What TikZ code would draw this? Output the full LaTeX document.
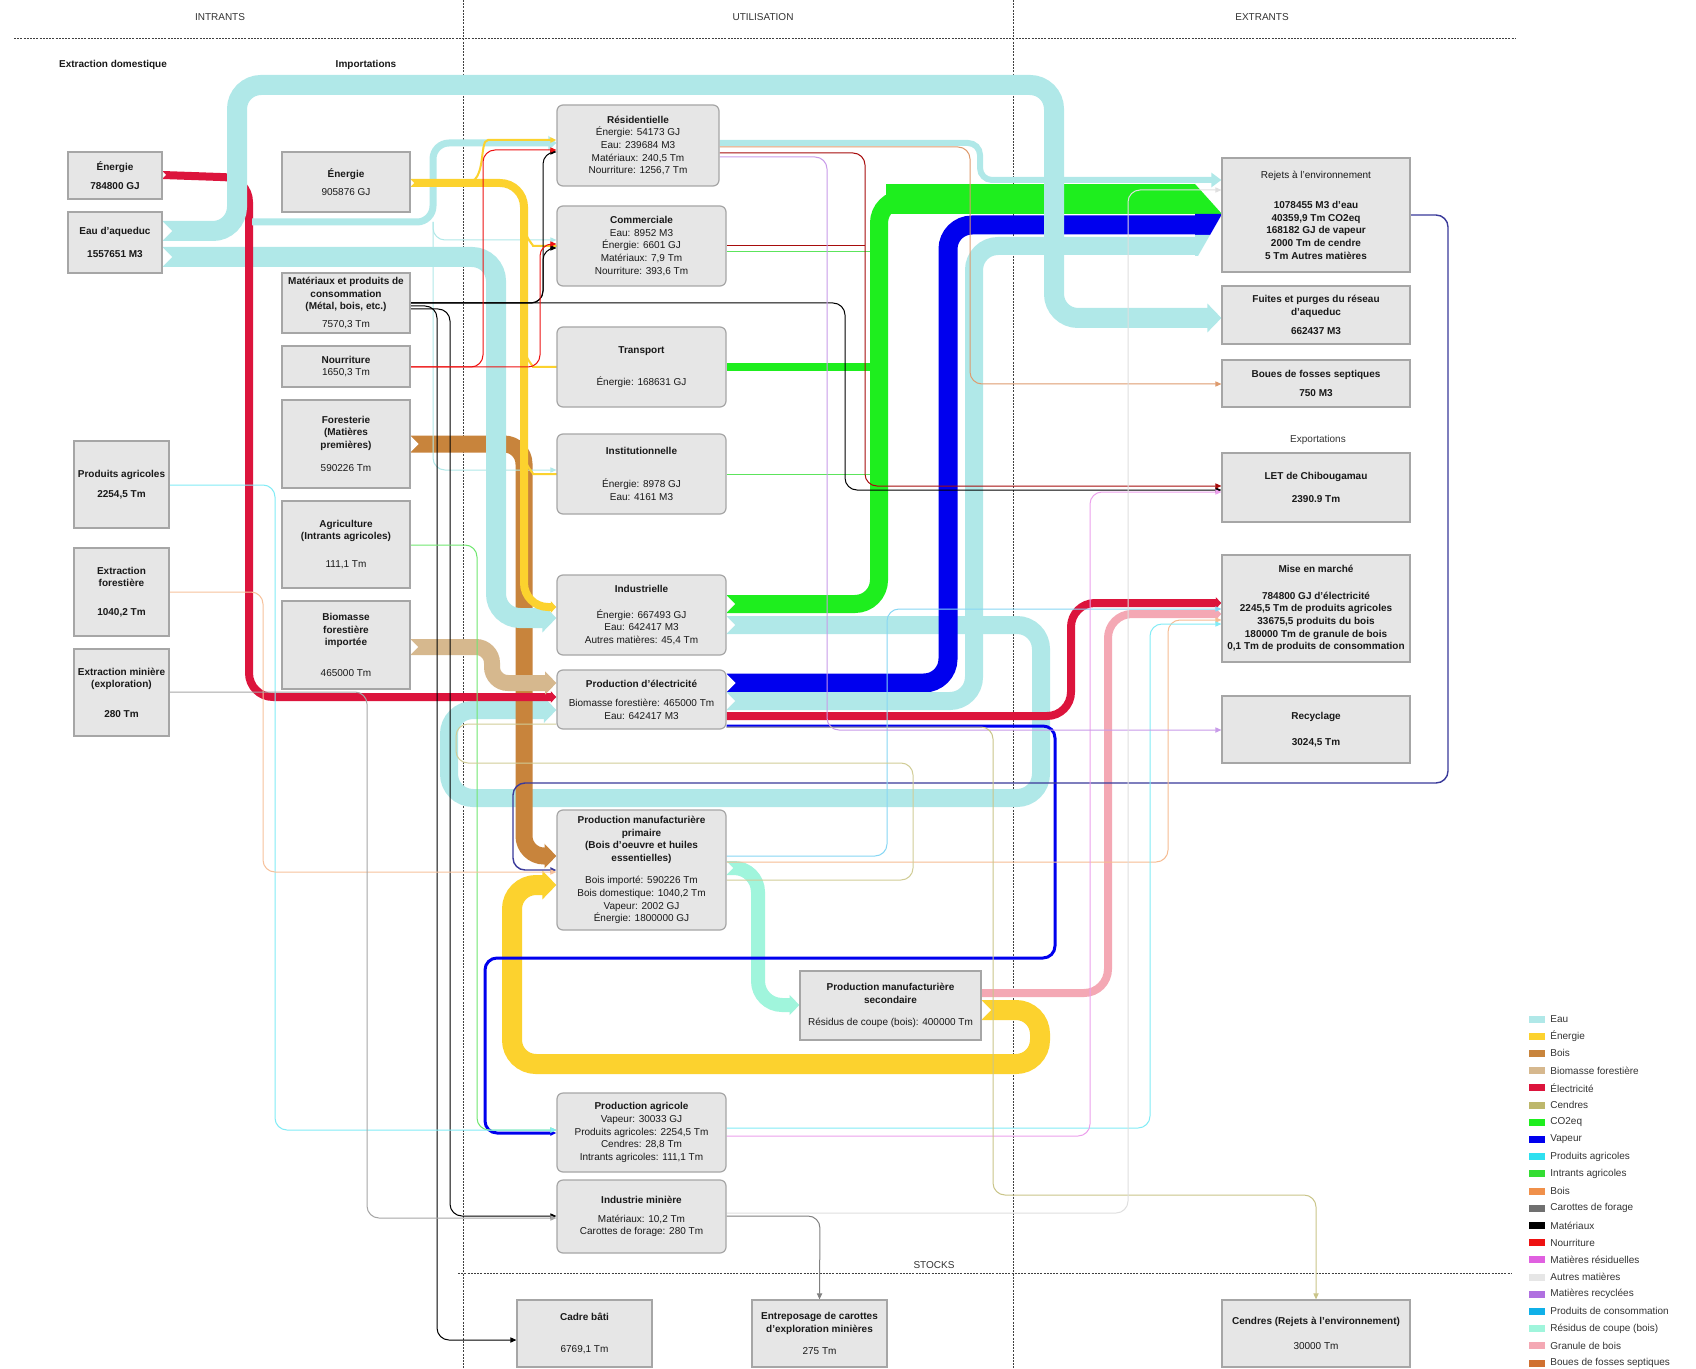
\documentclass[tikz,border=0pt]{standalone}
\usepackage{fontspec}
\setmainfont{Liberation Sans}
\usetikzlibrary{arrows.meta}
\pgfdeclarelayer{bg}
\pgfsetlayers{bg,main}
\definecolor{ceau}{HTML}{B0E8E8}
\definecolor{cener}{HTML}{FCD22E}
\definecolor{cbois}{HTML}{C8843C}
\definecolor{cbiom}{HTML}{D6B88E}
\definecolor{celec}{HTML}{DC143C}
\definecolor{ccend}{HTML}{BDB76B}
\definecolor{cco2}{HTML}{1EEE1E}
\definecolor{cvap}{HTML}{0000EE}
\definecolor{cpagr}{HTML}{2EE0F0}
\definecolor{cintr}{HTML}{33DD33}
\definecolor{cbois2}{HTML}{F0904A}
\definecolor{ccar}{HTML}{707070}
\definecolor{cmat}{HTML}{000000}
\definecolor{cnour}{HTML}{EE1111}
\definecolor{cresid}{HTML}{E060E0}
\definecolor{cautr}{HTML}{E6E6E6}
\definecolor{crecy}{HTML}{B070E0}
\definecolor{cpcons}{HTML}{10B0E8}
\definecolor{crcoupe}{HTML}{A0F5DC}
\definecolor{cgran}{HTML}{F4A8B4}
\definecolor{cboues}{HTML}{D07030}
\definecolor{boxfill}{HTML}{E6E6E6}
\definecolor{boxline}{HTML}{A6A6A6}
\definecolor{cnavy}{HTML}{3A3A9A}
\tikzset{
 box/.style={rectangle, draw=boxline, fill=boxfill, line width=0.6pt, align=center, inner sep=1pt, text=black!90, font=\fontsize{5}{6.3}\selectfont},
 rbox/.style={box, rounded corners=3pt},
 band/.style={line width=#1, rounded corners=12pt, -{Triangle[length=0pt 0.7, width=0pt 1.4]}},
 plainband/.style={line width=#1, rounded corners=12pt},
 fine/.style={line width=0.5pt, rounded corners=6pt, -{Triangle[length=3pt, width=2.6pt]}},
 fineplain/.style={line width=0.5pt, rounded corners=6pt},
 hdr/.style={inner sep=0pt, text=black!80, font=\fontsize{5}{6}\selectfont},
 hdrb/.style={inner sep=0pt, text=black!90, font=\bfseries\fontsize{5}{6}\selectfont},
 leg/.style={anchor=west, inner sep=0pt, text=black!80, font=\fontsize{5}{6}\selectfont},
 grid/.style={line width=0.4pt, black!75, dash pattern=on 1pt off 0.6pt},
}
\newcommand{\bx}[7]{\node[#6, minimum width={(#4-#2)*0.5pt}, minimum height={(#5-#3)*0.5pt}] (#1) at ({(#2+#4)/2},{(#3+#5)/2}) {#7};}
\newcommand{\notch}[3]{\fill[white] (#1,{#2-#3}) -- ({#1+#3},#2) -- (#1,{#2+#3}) -- cycle;}
\begin{document}
\begin{tikzpicture}[x=0.5pt,y=-0.5pt]
\useasboundingbox (0,0) rectangle (1696,1369);
% headers
\node[hdr] (hin) at (220,17) {INTRANTS};
\node[hdr] (hut) at (763,17) {UTILISATION};
\node[hdr] (hex) at (1262,17) {EXTRANTS};
\node[hdrb] (hdom) at (113,65) {Extraction domestique};
\node[hdrb] (himp) at (366,65) {Importations};
\node[hdr] (hexp) at (1318,440) {Exportations};
\node[hdr] (hstk) at (934,1265) {STOCKS};
% domestic
\bx{enerdom}{68}{152}{162}{199}{box}{\textbf{Énergie}\\[3.5pt]\textbf{784800 GJ}}
\bx{eauaq}{68}{212}{162}{273}{box}{\textbf{Eau d'aqueduc}\\[5pt]\textbf{1557651 M3}}
\bx{pagrdom}{74}{441}{169}{528}{box}{\textbf{Produits agricoles}\\[3.5pt]\textbf{2254,5 Tm}}
\bx{extfor}{74}{548}{169}{636}{box}{\textbf{Extraction}\\\textbf{forestière}\\[8pt]\textbf{1040,2 Tm}}
\bx{extmin}{74}{649}{169}{736}{box}{\textbf{Extraction minière}\\\textbf{(exploration)}\\[8.5pt]\textbf{280 Tm}}
% imports
\bx{enerimp}{282}{152}{410}{212}{box}{\textbf{Énergie}\\[3pt]905876 GJ}
\bx{mat}{282}{273}{410}{333}{box}{\textbf{Matériaux et produits de}\\\textbf{consommation}\\\textbf{(Métal, bois, etc.)}\\[2.5pt]7570,3 Tm}
\bx{nour}{282}{346}{410}{387}{box}{\textbf{Nourriture}\\1650,3 Tm}
\bx{forest}{282}{400}{410}{488}{box}{\textbf{Foresterie}\\\textbf{(Matières}\\\textbf{premières)}\\[5.5pt]590226 Tm}
\bx{agri}{282}{501}{410}{588}{box}{\textbf{Agriculture}\\\textbf{(Intrants agricoles)}\\[7.5pt]111,1 Tm}
\bx{biom}{282}{601}{410}{689}{box}{\textbf{Biomasse}\\\textbf{forestière}\\\textbf{importée}\\[9pt]465000 Tm}
% utilisation
\bx{resid}{557}{105}{719}{186}{rbox}{\textbf{Résidentielle}\\Énergie: 54173 GJ\\Eau: 239684 M3\\Matériaux: 240,5 Tm\\Nourriture: 1256,7 Tm}
\bx{comm}{557}{206}{726}{286}{rbox}{\textbf{Commerciale}\\Eau: 8952 M3\\Énergie: 6601 GJ\\Matériaux: 7,9 Tm\\Nourriture: 393,6 Tm}
\bx{transp}{557}{327}{726}{407}{rbox}{\textbf{Transport}\\[10pt]Énergie: 168631 GJ}
\bx{instit}{557}{434}{726}{514}{rbox}{\textbf{Institutionnelle}\\[10pt]Énergie: 8978 GJ\\Eau: 4161 M3}
\bx{indus}{557}{575}{726}{655}{rbox}{\textbf{Industrielle}\\[6.5pt]Énergie: 667493 GJ\\Eau: 642417 M3\\Autres matières: 45,4 Tm}
\bx{prodelec}{557}{670}{726}{729}{rbox}{\textbf{Production d'électricité}\\[3.5pt]Biomasse forestière: 465000 Tm\\Eau: 642417 M3}
\bx{pmp}{557}{810}{726}{930}{rbox}{\textbf{Production manufacturière}\\\textbf{primaire}\\\textbf{(Bois d'oeuvre et huiles}\\\textbf{essentielles)}\\[5pt]Bois importé: 590226 Tm\\Bois domestique: 1040,2 Tm\\Vapeur: 2002 GJ\\Énergie: 1800000 GJ}
\bx{pms}{800}{971}{981}{1040}{box}{\textbf{Production manufacturière}\\\textbf{secondaire}\\[5pt]Résidus de coupe (bois): 400000 Tm}
\bx{prodagr}{557}{1093}{726}{1172}{rbox}{\textbf{Production agricole}\\Vapeur: 30033 GJ\\Produits agricoles: 2254,5 Tm\\Cendres: 28,8 Tm\\Intrants agricoles: 111,1 Tm}
\bx{indmin}{557}{1180}{726}{1253}{rbox}{\textbf{Industrie minière}\\[3pt]Matériaux: 10,2 Tm\\Carottes de forage: 280 Tm}
% stocks
\bx{cadre}{517}{1300}{652}{1367}{box}{\textbf{Cadre bâti}\\[10pt]6769,1 Tm}
\bx{entrep}{752}{1300}{887}{1367}{box}{\textbf{Entreposage de carottes}\\\textbf{d'exploration minières}\\[4.5pt]275 Tm}
\bx{cendres}{1222}{1300}{1410}{1367}{box}{\textbf{Cendres (Rejets à l'environnement)}\\[6pt]30000 Tm}
% extrants
\bx{rejets}{1222}{158}{1410}{272}{box}{Rejets à l'environnement\\[9pt]\textbf{1078455 M3 d'eau}\\\textbf{40359,9 Tm CO2eq}\\\textbf{168182 GJ de vapeur}\\\textbf{2000 Tm de cendre}\\\textbf{5 Tm Autres matières}}
\bx{fuites}{1222}{286}{1410}{344}{box}{\textbf{Fuites et purges du réseau}\\\textbf{d'aqueduc}\\[3.5pt]\textbf{662437 M3}}
\bx{boues}{1222}{360}{1410}{407}{box}{\textbf{Boues de fosses septiques}\\[3.5pt]\textbf{750 M3}}
\bx{let}{1222}{453}{1410}{522}{box}{\textbf{LET de Chibougamau}\\[5pt]\textbf{2390.9 Tm}}
\bx{mise}{1222}{555}{1410}{662}{box}{\textbf{Mise en marché}\\[7pt]\textbf{784800 GJ d'électricité}\\\textbf{2245,5 Tm de produits agricoles}\\\textbf{33675,5 produits du bois}\\\textbf{180000 Tm de granule de bois}\\\textbf{0,1 Tm de produits de consommation}}
\bx{recyc}{1222}{696}{1410}{763}{box}{\textbf{Recyclage}\\[7pt]\textbf{3024,5 Tm}}
% legend
\foreach \c/\t [count=\i from 0] in {ceau/Eau, cener/Énergie, cbois/Bois, cbiom/Biomasse forestière, celec/Électricité, ccend/Cendres, cco2/CO2eq, cvap/Vapeur, cpagr/Produits agricoles, cintr/Intrants agricoles, cbois2/Bois, ccar/Carottes de forage, cmat/Matériaux, cnour/Nourriture, cresid/Matières résiduelles, cautr/Autres matières, crecy/Matières recyclées, cpcons/Produits de consommation, crcoupe/Résidus de coupe (bois), cgran/Granule de bois, cboues/Boues de fosses septiques}{
  \fill[\c] (1529,{1019+17.2*\i-3.5}) rectangle (1545,{1019+17.2*\i+3.5});
  \node[leg] (leg\i) at (1550,{1019+17.2*\i}) {\t};
}
\coordinate (brA) at (252,222);
\begin{pgfonlayer}{bg}
\fill[white] (0,0) rectangle (1696,1369);
\draw[grid] (14,38) -- (1516,38);
\draw[grid] (463,0) -- (463,1369);
\draw[grid] (1013,0) -- (1013,1369);
\draw[grid] (458,1273) -- (1512,1273);
% thin green feeders (under green band)
\draw[cintr!80!white, fineplain] (comm.east |- 0,252) -- (879,252);
\draw[cintr!80!white, fineplain] (instit.east |- 0,474) -- (879,474);
% water loop Industrielle -> Production d'electricite
\draw[ceau, band=9pt] (indus.east |- 0,625) -- (1041,625) -- (1041,798) -- (449,798) -- (449,710) -- (prodelec.west |- 0,710);
% bois
\draw[cbois, band=8.5pt, rounded corners=10pt] (forest.east |- 0,444) -- (524,444) -- (524,856) -- (pmp.west |- 0,856);
% water lower branch
\draw[ceau, band=10pt] (eauaq.east |- 0,257) -- (496,257) -- (496,618) -- (indus.west |- 0,618);
% electricity in
\draw[celec, band=4pt] (enerdom.east |- 0,175) -- (249,178) -- (249,697) -- (prodelec.west |- 0,697);
% CO2
\draw[cco2, plainband=9pt] (indus.east |- 0,604) -- (879,604) -- (879,199) -- (1195,199);
\draw[cco2, line width=15pt] (886,199) -- (1195,199);
\draw[cco2, line width=4pt] (transp.east) -- (879,367);
% vapeur
\draw[cvap, plainband=9.5pt] (prodelec.east |- 0,683) -- (948,683) -- (948,225) -- (1195,225);
% water elec -> rejets
\draw[ceau, plainband=9pt] (prodelec.east |- 0,701) -- (974,701) -- (974,246) -- (1195,246);
% chevron into rejets
\fill[cco2] (1195,184) -- (1222,214) -- (1195,214) -- cycle;
\fill[cvap] (1195,214) -- (1222,214) -- (1210,235) -- (1195,235) -- cycle;
\fill[ceau] (1195,235) -- (1210,235) -- (1198,256) -- (1195,256) -- cycle;
% electricity out
\draw[celec, band=4pt] (prodelec.east |- 0,716) -- (1071,716) -- (1071,603) -- (mise.west |- 0,603);
% water top branch -> fuites
\draw[ceau, band=10pt] (eauaq.east |- 0,231) -- (237,231) -- (237,85) -- (1054,85) -- (1054,318) -- (fuites.west |- 0,318);
\draw[ceau, line width=3.5pt, rounded corners=8pt, -{Triangle[length=4pt,width=7pt]}] (brA) -- (433,222) -- (433,143) -- (resid.west |- 0,143);
\draw[ceau, fine] (433,222) -- (433,470) -- (instit.west |- 0,470);
\draw[ceau, fine] (433,222) |- (comm.west |- 0,240);
% energy
\draw[cener, band=4pt] (enerimp.east |- 0,183) -- (524,183) -- (524,607) -- (indus.west |- 0,607);
\draw[cener, fine, line width=1pt] (466,183) to[out=0,in=180] (500,140) -- (resid.west |- 0,140);
\draw[cener, fine, line width=1pt] (524,228) to[out=-80,in=180] (545,246) -- (comm.west |- 0,246);
\draw[cener, fine, line width=1pt] (524,349) to[out=-80,in=180] (545,367) -- (transp.west);
\draw[cener, fine, line width=1pt] (524,456) to[out=-80,in=180] (545,474) -- (instit.west |- 0,474);
% biomass
\draw[cbiom, band=8pt, rounded corners=8pt] (biom.east |- 0,647) -- (492,647) -- (492,683) -- (prodelec.west |- 0,683);
% residus de coupe
\draw[crcoupe, band=7pt] (pmp.east |- 0,868) -- (758,868) -- (758,1005) -- (pms.west |- 0,1005);
% granules
\draw[cgran, band=4pt] (pms.east |- 0,993) -- (1108,993) -- (1108,614) -- (mise.west |- 0,614);
% energy loop
\draw[cener, band=10pt] (pms.east |- 0,1010) -- (1040,1010) -- (1040,1064) -- (512,1064) -- (512,885) -- (pmp.west |- 0,885);
% notched band tails
\notch{162}{231}{10}
\notch{162}{257}{10}
\notch{162}{175}{4}
\notch{410}{183}{4}
\notch{410}{444}{8.5}
\notch{410}{647}{8}
\notch{726}{604}{9}
\notch{726}{625}{9}
\notch{726}{683}{9.5}
\notch{726}{701}{9}
\notch{726}{868}{7}
\notch{981}{1010}{10}
% vapeur to agriculture
\draw[cvap, fine, line width=1.5pt] (prodelec.east |- 0,726) -- (1055,726) -- (1055,958) -- (485,958) -- (485,1133) -- (prodagr.west |- 0,1133);
% vapeur rejets -> pmp
\draw[cnavy, fine, line width=0.7pt] (rejets.east |- 0,215) -- (1448,215) -- (1448,783) -- (513,783) -- (513,870) -- (pmp.west |- 0,870);
% materiaux
\draw[black, fine] (mat.east |- 0,303) -- (543,303) -- (543,152) -- (resid.west |- 0,152);
\draw[black, fine] (mat.east |- 0,303) -- (543,303) -- (543,248) -- (comm.west |- 0,248);
\draw[black, fine] (mat.east |- 0,303) -- (845,303) -- (845,490) -- (let.west |- 0,490);
\draw[black, fine] (mat.east |- 0,306) -- (437,306) -- (437,1340) -- (cadre.west |- 0,1340);
\draw[black, fine] (mat.east |- 0,309) -- (450,309) -- (450,1216) -- (indmin.west |- 0,1216);
% nourriture
\draw[cnour, fine] (nour.east |- 0,367) -- (483,367) -- (483,150) -- (resid.west |- 0,150);
\draw[cnour, fine] (nour.east |- 0,367) -- (540,367) -- (540,244) -- (comm.west |- 0,244);
% intrants agricoles
\draw[cintr!70!white, fine] (agri.east |- 0,545) -- (477,545) -- (477,1130) -- (prodagr.west |- 0,1130);
% produits agricoles
\draw[cpagr!60!white, fine] (pagrdom.east |- 0,485) -- (275,485) -- (275,1130) -- (prodagr.west |- 0,1130);
% extraction forestiere
\draw[cbois2!55!white, fine] (extfor.east |- 0,592) -- (263,592) -- (263,872) -- (pmp.west |- 0,872);
% extraction miniere
\draw[gray!70, fine] (extmin.east |- 0,692) -- (367,692) -- (367,1218) -- (indmin.west |- 0,1218);
\draw[gray, fine] (indmin.east |- 0,1216) -- (820,1216) -- (entrep.north);
% sorties
\draw[cbois2!60!white, fine] (pmp.east |- 0,862) -- (1168,862) -- (1168,620) -- (mise.west |- 0,620);
\draw[cpcons!50!white, fine] (pmp.east |- 0,856) -- (887,856) -- (887,609) -- (mise.west |- 0,609);
\draw[cpagr!60!white, fine] (prodagr.east |- 0,1128) -- (1150,1128) -- (1150,624) -- (mise.west |- 0,624);
\draw[cresid!60!white, fine] (prodagr.east |- 0,1136) -- (1090,1136) -- (1090,492) -- (let.west |- 0,492);
\draw[cnour!70!black, fine] (resid.east |- 0,153) -- (865,153) -- (865,486) -- (let.west |- 0,486);
\draw[cnour!70!black, fineplain] (comm.east |- 0,246) -- (865,246);
\draw[crecy!70!white, fine] (resid.east |- 0,157) -- (827,157) -- (827,730) -- (recyc.west |- 0,730);
\draw[cboues!70!white, fine] (resid.east |- 0,147) -- (970,147) -- (970,384) -- (boues.west |- 0,384);
\draw[ceau, line width=3pt, rounded corners=6pt, -{Triangle[length=5pt,width=7pt]}] (resid.east |- 0,143) -- (980,143) -- (980,180) -- (rejets.west |- 0,180);
\draw[ccend!80!white, fine] (prodelec.east |- 0,727) -- (993,727) -- (993,1195) -- (1316,1195) -- (cendres.north);
\draw[ccend!70!white, fineplain] (prodelec.west |- 0,724) -- (456,724) -- (456,763) -- (913,763) -- (913,880) -- (pmp.east |- 0,880);
\draw[gray!25, fine] (indmin.east |- 0,1213) -- (1128,1213) -- (1128,190) -- (rejets.west |- 0,190);
\end{pgfonlayer}
\end{tikzpicture}
\end{document}
